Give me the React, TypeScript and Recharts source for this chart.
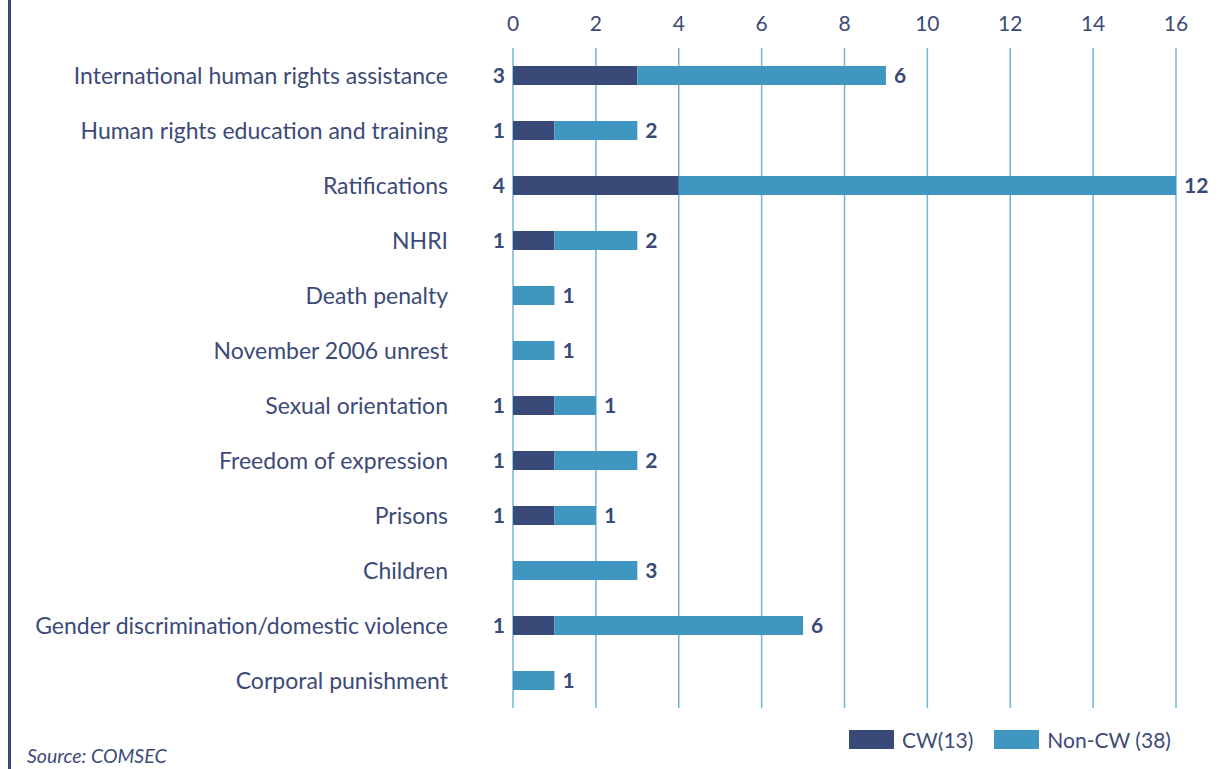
import React from 'react';
import { BarChart, Bar, XAxis, YAxis, CartesianGrid, LabelList } from 'recharts';

// Chart values
const categories = [
  'International human rights assistance',
  'Human rights education and training',
  'Ratifications',
  'NHRI',
  'Death penalty',
  'November 2006 unrest',
  'Sexual orientation',
  'Freedom of expression',
  'Prisons',
  'Children',
  'Gender discrimination/domestic violence',
  'Corporal punishment',
];
const cwValues = [3, 1, 4, 1, 0, 0, 1, 1, 1, 0, 1, 0];
const nonCwValues = [6, 2, 12, 2, 1, 1, 1, 2, 1, 3, 6, 1];
const xTicks = [0, 2, 4, 6, 8, 10, 12, 14, 16];
const seriesNames = { cw: 'CW(13)', nonCw: 'Non-CW (38)' };

const data = categories.map((name, i) => ({ name, cw: cwValues[i], nonCw: nonCwValues[i] }));

const navy = '#394a79';
const blue = '#3e96c1';
const gridBlue = '#72b4da';
const textColor = '#3d4a78';
const font = 'Lato, "Noto Sans", sans-serif';

const CategoryTick = (props: any) => {
  const { x, y, payload } = props;
  return (
    <text x={x - 57} y={y} dy={8} textAnchor="end" fill={textColor} fontSize={23} fontFamily={font}>
      {payload.value}
    </text>
  );
};

const hideZero = (v: any) => (v === 0 ? '' : v);

export default function App() {
  return (
    <div style={{ position: 'absolute', left: 0, top: 0, width: 1218, height: 769, background: '#fff', fontFamily: font }}>
      <div style={{ position: 'absolute', left: 8, top: 0, width: 3, height: 769, background: navy }} />
      <BarChart
        width={1218}
        height={769}
        data={data}
        layout="vertical"
        barSize={19}
        margin={{ top: 0, right: 42, left: 0, bottom: 61 }}
      >
        <CartesianGrid horizontal={false} vertical={true} stroke={gridBlue} strokeWidth={1.5} />
        <XAxis
          type="number"
          orientation="top"
          domain={[0, 16]}
          ticks={xTicks}
          height={48}
          axisLine={false}
          tickLine={false}
          tickSize={0}
          tickMargin={17}
          tick={{ fill: textColor, fontSize: 21, fontFamily: font }}
        />
        <YAxis
          type="category"
          dataKey="name"
          width={513}
          axisLine={false}
          tickLine={false}
          interval={0}
          tick={<CategoryTick />}
        />
        <Bar dataKey="cw" stackId="a" fill={navy} isAnimationActive={false}>
          <LabelList dataKey="cw" position="left" offset={8} formatter={hideZero} fill={navy} fontSize={21} fontWeight="bold" fontFamily={font} />
        </Bar>
        <Bar dataKey="nonCw" stackId="a" fill={blue} isAnimationActive={false}>
          <LabelList dataKey="nonCw" position="right" offset={8} formatter={hideZero} fill={navy} fontSize={21} fontWeight="bold" fontFamily={font} />
        </Bar>
      </BarChart>
      <div style={{ position: 'absolute', left: 849, top: 727, display: 'flex', alignItems: 'center', fontSize: 21, color: textColor }}>
        <span style={{ display: 'inline-block', width: 45, height: 19, background: navy, marginRight: 8 }} />
        <span style={{ marginRight: 21 }}>{seriesNames.cw}</span>
        <span style={{ display: 'inline-block', width: 45, height: 19, background: blue, marginRight: 8 }} />
        <span>{seriesNames.nonCw}</span>
      </div>
      <div style={{ position: 'absolute', left: 27, top: 744, fontSize: 19.5, fontStyle: 'italic', color: textColor }}>
        Source: COMSEC
      </div>
    </div>
  );
}
